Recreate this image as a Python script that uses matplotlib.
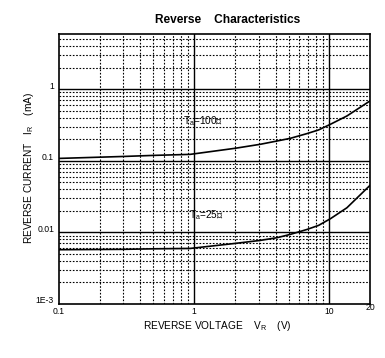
import matplotlib
matplotlib.use("Agg")
import matplotlib.pyplot as plt
from matplotlib.transforms import offset_copy, blended_transform_factory

# Data
v_100 = [0.1, 0.3, 0.5, 0.934, 2.01, 3.08, 4.10, 5.14, 6.84, 8.33, 10.2, 13.5, 20.0]
i_100 = [0.108, 0.115, 0.119, 0.123, 0.1496, 0.170, 0.189, 0.206, 0.240, 0.270, 0.324, 0.423, 0.686]
v_25 = [0.1, 0.3, 0.5, 0.934, 2.01, 3.08, 4.10, 5.14, 6.84, 8.33, 10.2, 13.5, 20.0]
i_25 = [0.00573, 0.0058, 0.0059, 0.00597, 0.00702, 0.00773, 0.00843, 0.00938, 0.0110, 0.01253, 0.01555, 0.0221, 0.0454]

x_ticks = [0.1, 1, 10, 20]
x_tick_labels = ["0.1", "1", "10", "20"]
y_ticks = [1e-3, 1e-2, 1e-1, 1]
y_tick_labels = ["1E-3", "0.01", "0.1", "1"]

plt.rcParams['font.family'] = ['Liberation Sans', 'DejaVu Sans']

fig = plt.figure(figsize=(3.85, 3.58), dpi=100)
ax = fig.add_axes([59/385, 1-304/358, (370-59)/385, (304-33.5)/358])
ax.set_xscale('log')
ax.set_yscale('log')
ax.set_xlim(0.1, 20)
ax.set_ylim(1e-3, 6.0)

# grid
dot = (0, (1.5, 1.5))
for dec in [0.1, 1, 10]:
    for m in range(2, 10):
        xv = dec * m
        if xv < 20:
            ax.axvline(xv, color='black', lw=0.8, ls=dot, zorder=1)
for dec in [1e-3, 1e-2, 1e-1, 1]:
    for m in range(2, 10):
        yv = dec * m
        if yv < 6.0:
            ax.axhline(yv, color='black', lw=0.8, ls=dot, zorder=1)
for xv in [1, 10]:
    ax.axvline(xv, color='black', lw=1.0, zorder=2)
for yv in [1e-2, 1e-1, 1]:
    ax.axhline(yv, color='black', lw=1.0, zorder=2)

ax.plot(v_100, i_100, color='black', lw=1.2, zorder=3)
ax.plot(v_25, i_25, color='black', lw=1.2, zorder=3)

for s in ax.spines.values():
    s.set_linewidth(1.2)

ax.xaxis.set_minor_locator(matplotlib.ticker.NullLocator())
ax.yaxis.set_minor_locator(matplotlib.ticker.NullLocator())
ax.set_xticks([])
ax.set_yticks([])

# x tick labels
xt = blended_transform_factory(ax.transData, ax.transAxes)
for xv, lab in zip(x_ticks, x_tick_labels):
    dy = -3 if xv != 20 else 1
    ax.text(xv, 0, lab, fontsize=6.2, ha='center', va='top',
            transform=offset_copy(xt, fig=fig, x=0, y=dy, units='dots'))
# y tick labels
yt = blended_transform_factory(ax.transAxes, ax.transData)
for yv, lab in zip(y_ticks, y_tick_labels):
    ax.text(0, yv, lab, fontsize=6.2, ha='right', va='center',
            transform=offset_copy(yt, fig=fig, x=-5, y=3, units='dots'))

# curve labels
ax.text(0.829, 0.357, r"T$_{\mathregular{a}}$=100℃", fontsize=7.2, ha='left', va='center')
ax.text(0.923, 0.0173, r"T$_{\mathregular{a}}$=25℃", fontsize=7.2, ha='left', va='center')

fig.text(228/385, 1-20/358, "Reverse    Characteristics", fontsize=8.6, fontweight='bold',
         ha='center', va='center')
fig.text(217/385, 1-326/358, r"REVERSE VOLTAGE    V$_{\mathregular{R}}$    (V)", fontsize=7.3,
         ha='center', va='center')
fig.text(29/385, 1-168/358, r"REVERSE CURRENT   I$_{\mathregular{R}}$    (mA)", fontsize=7.3,
         ha='center', va='center', rotation=90)

fig.savefig("out.png", dpi=100)
